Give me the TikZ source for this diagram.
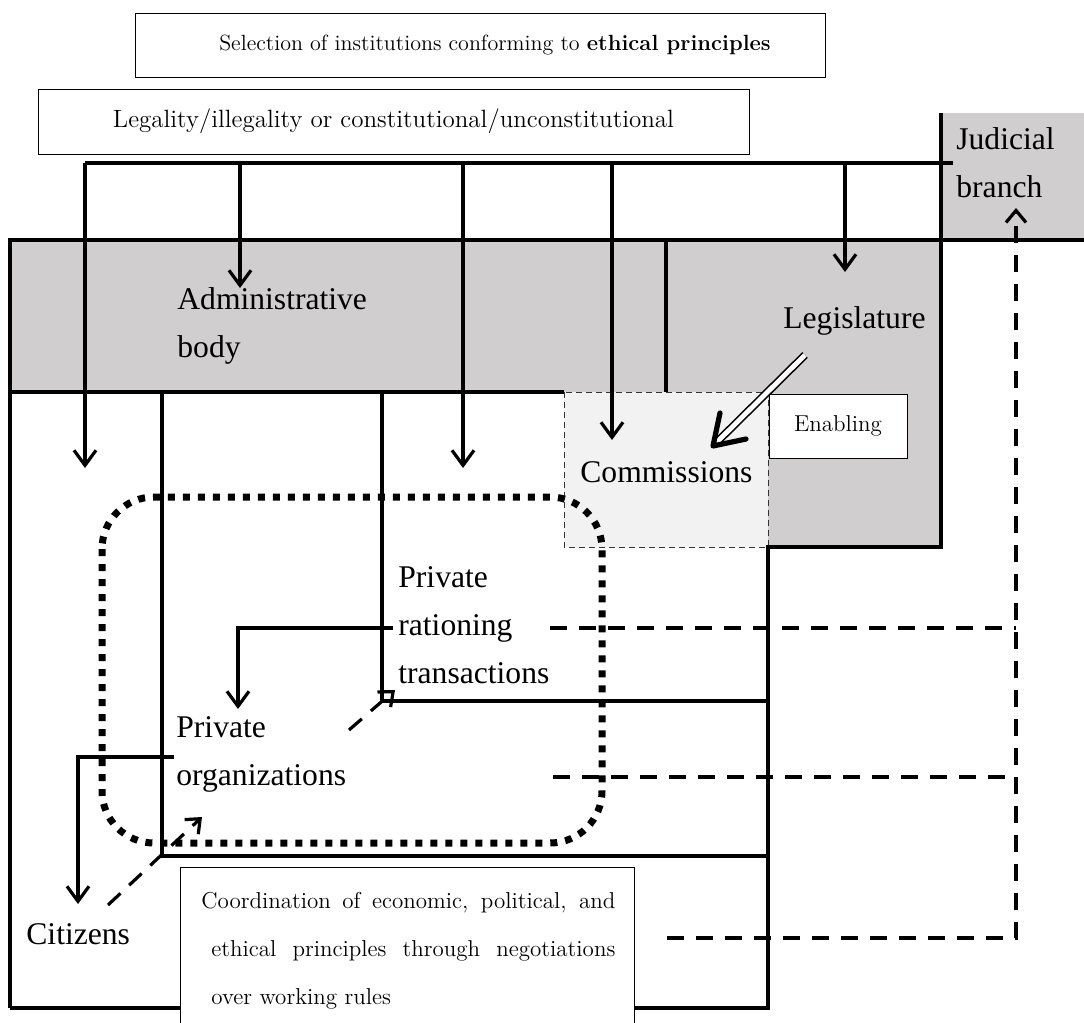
\documentclass[tikz,border=0pt]{standalone}
\usepackage{fontspec}
\newfontfamily\labfont{Liberation Serif}
\usetikzlibrary{arrows.meta}
\definecolor{govgray}{HTML}{D0CECF}
\definecolor{compale}{HTML}{F2F2F2}
\tikzset{
  wall/.style={line width=1.6pt},
  flow/.style={line width=1.6pt, -{Straight Barb[length=7.5pt,width=11pt]}},
  review/.style={line width=1.6pt, dash pattern=on 8.5pt off 6pt},
  reviewarr/.style={review, -{Straight Barb[length=6pt,width=10pt]}},
  ring/.style={line width=3.5pt, dash pattern=on 3.5pt off 4pt, rounded corners=26pt},
  enable/.style={double, double distance=2.4pt, line width=0.8pt},
  enablehead/.style={line width=2.6pt, line cap=round, line join=round},
  notebox/.style={draw, line width=0.5pt, fill=white, inner sep=0pt},
  note/.style={font=\fontsize{11}{24}\selectfont, inner sep=0pt},
  lab/.style={font=\labfont\fontsize{15.8}{24}\selectfont, align=left, inner sep=0pt, anchor=base west}
}
\begin{document}
\begin{tikzpicture}[x=0.5pt,y=-0.5pt]
  \useasboundingbox (0,0) rectangle (1084,1023);

  % shaded branches
  \fill[govgray] (10,240) -- (941,240) -- (941,547) -- (666,547) -- (666,392) -- (10,392) -- cycle;
  \fill[govgray] (941,113) rectangle (1084,240);
  \filldraw[fill=compale, draw=black!80, line width=0.4pt, densely dashed] (564,392) rectangle (768,547);

  % frame lines
  \draw[wall] (10,1008) -- (10,240) -- (1084,240);
  \draw[wall] (10,392) -- (564,392);
  \draw[wall] (666,240) -- (666,392);
  \draw[wall] (941,113) -- (941,547) -- (768,547) -- (768,1008) -- (10,1008);
  \draw[wall] (162,392) -- (162,856) -- (768,856);
  \draw[wall] (382,392) -- (382,701) -- (768,701);

  % judicial review
  \coordinate (busL) at (85,163);
  \coordinate (busR) at (953,163);
  \draw[wall] (busL) -- (busR);
  \foreach \x/\y in {85/468, 240/288, 463/468, 612/440, 845/272}
    \draw[flow] (\x,163) -- (\x,\y);

  \node[notebox, minimum width=345pt, minimum height=32pt] (select) at (480,45) {};
  \node[note] at (495,45) {Selection of institutions conforming to \textbf{ethical principles}};
  \node[notebox, minimum width=355.5pt, minimum height=32.5pt, note, font=\fontsize{12.5}{24}\selectfont]
    (legal) at (393.5,121.5) {Legality/illegality or constitutional/unconstitutional};

  \node[lab] (judic) at (956,197) {Judicial\\branch};
  \node[lab] (admin) at (177,357) {Administrative\\body};
  \node[lab] (legis) at (783,328) {Legislature};
  \node[lab] (comm) at (580,482) {Commissions};
  \node[lab] (rat) at (398,683) {Private\\rationing\\transactions};
  \node[lab] (org) at (176,785) {Private\\organizations};
  \node[lab] (cit) at (26,944) {Citizens};

  \node[notebox, minimum width=69pt, minimum height=32pt, note, font=\fontsize{11.5}{24}\selectfont]
    (enab) at (838,426) {Enabling};
  \coordinate (enS) at (805,355);
  \coordinate (enT) at (713,446);
  \draw[enable] (enS) -- (717,442);
  \draw[enablehead] (720,413) -- (enT) -- (746,439);

  % dotted group
  \draw[ring] (102,497) rectangle (602,843);

  % negotiations
  \draw[flow] (393,628) -- (238,628) -- (238,709);
  \draw[flow] (174,757) -- (78,757) -- (78,904);
  \draw[reviewarr] (108,905) -- (202,817);
  \draw[reviewarr] (349,730) -- (395,690);

  \coordinate (judin) at (1016,208);
  \draw[review] (550,628) -- (1016,628);
  \draw[review] (553,777) -- (1016,777);
  \draw[reviewarr] (667,938) -- (1016,938) -- (judin);

  \filldraw[fill=white, line width=0.5pt] (180,1030) |- (634,867) -- (634,1030);
  \node[note, font=\fontsize{11.5}{24}\selectfont, anchor=base west, text width=207pt, align=justify]
    (coord) at (201,908)
    {Coordination of economic, political, and\linebreak
     \hspace*{5pt}ethical principles through negotiations\linebreak
     \hspace*{5pt}over working rules};
\end{tikzpicture}
\end{document}
